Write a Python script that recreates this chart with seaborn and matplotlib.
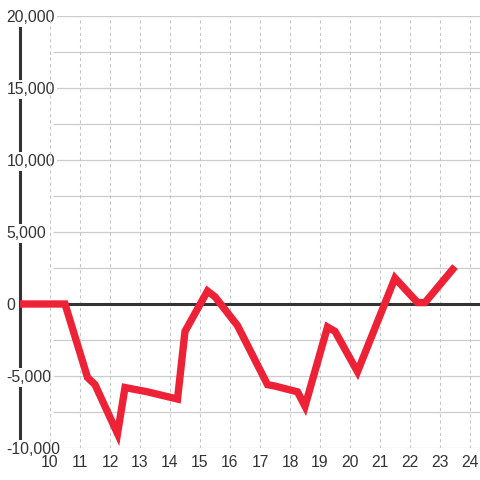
import numpy as np
import matplotlib
matplotlib.use("Agg")
import matplotlib.pyplot as plt
import matplotlib.ticker as mticker
import seaborn as sns

# data
hours  = [9.0, 10.5, 11.25, 11.5, 12.25, 12.5, 13.25, 14.25, 14.5, 15.25, 15.5,
          16.25, 17.25, 17.5, 18.25, 18.5, 19.25, 19.5, 20.25, 21.5, 22.25,
          22.5, 23.5]
values = [0, 0, -5100, -5600, -9000, -5800, -6100, -6600, -1900, 900, 500,
          -1500, -5600, -5700, -6100, -7100, -1600, -1900, -4700, 1800, 100,
          100, 2600]

x_ticks    = list(range(10, 25))
y_ticks    = list(range(-10000, 20001, 5000))
grid_lines = list(range(-10000, 20001, 2500))

sns.set_style("white")
plt.rcParams["font.family"] = ["Liberation Sans", "DejaVu Sans"]

fig = plt.figure(figsize=(4.8, 4.8), dpi=100)
ax  = fig.add_axes([0, 32 / 480, 1, 432 / 480])

x_left, x_right = 10 - 50 / 30, 10 + 430 / 30
ax.set_xlim(x_left, x_right)
ax.set_ylim(-10000, 20000)

# horizontal grid, starts after the labels
ax.hlines(grid_lines, 10 + 3 / 30, x_right, color="#cccccc", lw=0.9, zorder=0.2)

# y axis line and zero line
ax.plot([hours[0], hours[0]], [-10000, 20000], color="#333333", lw=2.2,
        solid_capstyle="butt", zorder=0.3)
ax.plot([hours[0], x_right], [0, 0], color="#333333", lw=2.2,
        solid_capstyle="butt", zorder=1.5)

sns.lineplot(x=hours, y=values, ax=ax, color="#ee2236", linewidth=5.3,
             zorder=2)
ax.lines[-1].set_solid_capstyle("butt")
ax.lines[-1].set_solid_joinstyle("miter")

ax.set_xticks(x_ticks)
ax.set_yticks(y_ticks)
ax.yaxis.set_major_formatter(mticker.FuncFormatter(lambda v, p: f"{v:,.0f}"))
ax.grid(axis="x", color="#c4c4c4", lw=0.75, ls=(0, (3, 3)))
ax.grid(axis="y", visible=False)
ax.set_axisbelow(True)
ax.xaxis.set_zorder(0.6)

ax.tick_params(axis="both", length=0, labelsize=11.3, labelcolor="#333333")
ax.tick_params(axis="x", pad=5.2)
ax.tick_params(axis="y", pad=-4.8)
for lbl in ax.get_yticklabels():
    lbl.set_horizontalalignment("left")
    lbl.set_bbox(dict(facecolor="white", edgecolor="none",
                      boxstyle="square,pad=0.12"))

for s in ax.spines.values():
    s.set_visible(False)
ax.set_xlabel("")
ax.set_ylabel("")

fig.savefig("out.png", dpi=100)
